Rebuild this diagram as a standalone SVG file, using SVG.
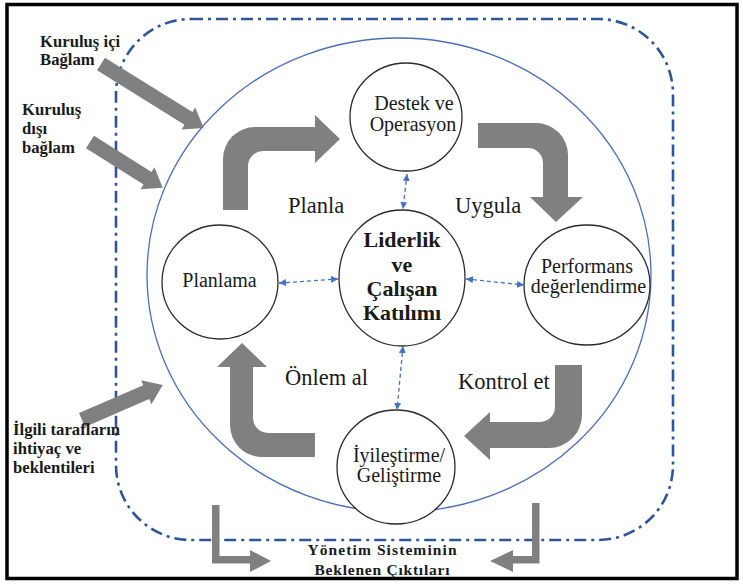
<svg xmlns="http://www.w3.org/2000/svg" width="743" height="585" viewBox="0 0 743 585">
<style>
.frame{fill:none;stroke:#000;stroke-width:3.5}
.boundary{fill:none;stroke:#2E5597;stroke-width:2.6;stroke-dasharray:12 5 3 5}
.bigc{fill:none;stroke:#4A6FB5;stroke-width:1.3}
.node{fill:#fff;stroke:#2b2b2b;stroke-width:1.3}
.garrow{fill:#808080;stroke:none}
.dash{fill:none;stroke:#4472C4;stroke-width:1.3;stroke-dasharray:4 3;marker-start:url(#ah);marker-end:url(#ah)}
.t{font-family:"Liberation Serif","Times New Roman",serif;fill:#1a1a1a}
.nt{font-size:20px;text-anchor:middle}
.bl{font-size:22.5px}
.lb{font-size:22px;font-weight:bold;text-anchor:middle}
.side{font-size:16.7px;font-weight:bold}
.out{font-size:15.5px;font-weight:bold;text-anchor:middle}
</style>
<defs>
<marker id="ah" viewBox="0 0 10 10" refX="10" refY="5" markerWidth="7" markerHeight="7" markerUnits="userSpaceOnUse" orient="auto-start-reverse">
<path d="M0,0 L10,5 L0,10 Z" fill="#4472C4"/>
</marker>
</defs>
<rect class="frame" x="7" y="4.5" width="730" height="574"/>
<rect class="boundary" x="116" y="19" width="557" height="521" rx="75" ry="75"/>
<ellipse class="bigc" cx="399" cy="275" rx="252" ry="237"/>

<g id="connectors">
<path class="garrow" d="M223 210 L223 159 A32 32 0 0 1 255 127 L315 127 L315 115 L340 139 L315 163 L315 151 L263 151 A15 15 0 0 0 248 166 L248 210 Z"/>
<path class="garrow" d="M478 123 L536 123 A32 32 0 0 1 568 155 L568 197 L583 197 L556 222 L530 197 L543 197 L543 163 A15 15 0 0 0 528 148 L478 148 Z"/>
<path class="garrow" d="M555 365 L582 365 L582 415 A33 33 0 0 1 549 448 L490 448 L490 460 L464 436 L490 412 L490 422 L540 422 A15 15 0 0 0 555 407 Z"/>
<path class="garrow" d="M315 433 L268 433 A15 15 0 0 1 253 418 L253 367 L267 367 L242 343 L217 367 L230 367 L230 425 A32 32 0 0 0 262 457 L315 457 Z"/>
<polygon class="garrow" transform="translate(101,64) rotate(31.9)" points="0,-7.5 103,-7.5 103,-13 121,0 103,13 103,7.5 0,7.5"/>
<polygon class="garrow" transform="translate(90,142) rotate(32.2)" points="0,-7.5 68,-7.5 68,-13 86,0 68,13 68,7.5 0,7.5"/>
<polygon class="garrow" transform="translate(82,420) rotate(-23.4)" points="0,-7.5 70,-7.5 70,-13 88,0 70,13 70,7.5 0,7.5"/>
<path class="garrow" d="M212 505 L219.5 505 L219.5 556 L250 556 L250 550 L271 561 L250 572 L250 563.5 L212 563.5 Z"/>
<path class="garrow" d="M539.5 503 L532 503 L532 556 L513 556 L513 550 L490 561 L513 572 L513 563.5 L539.5 563.5 Z"/>
</g>

<g id="node-destek">
<ellipse class="node" cx="406" cy="117" rx="56" ry="54"/>
<text class="t nt" x="414" y="110">Destek ve</text>
<text class="t nt" x="413" y="131">Operasyon</text>
</g>
<g id="node-liderlik">
<ellipse class="node" cx="402" cy="278" rx="63" ry="68"/>
<text class="t lb" x="402" y="247">Liderlik</text>
<text class="t lb" x="402" y="272">ve</text>
<text class="t lb" x="402" y="296">Çalışan</text>
<text class="t lb" x="402" y="320">Katılımı</text>
</g>
<g id="node-planlama">
<ellipse class="node" cx="220" cy="282" rx="58" ry="57"/>
<text class="t nt" x="219.5" y="287">Planlama</text>
</g>
<g id="node-performans">
<ellipse class="node" cx="587" cy="285" rx="63" ry="60"/>
<text class="t nt" x="587" y="273">Performans</text>
<text class="t nt" x="588.5" y="293">değerlendirme</text>
</g>
<g id="node-iyilestirme">
<ellipse class="node" cx="396" cy="467" rx="59" ry="57"/>
<text class="t nt" x="399" y="462">İyileştirme/</text>
<text class="t nt" x="399" y="482">Geliştirme</text>
</g>

<g id="dashed-links">
<line class="dash" x1="407" y1="174" x2="403" y2="209"/>
<line class="dash" x1="279" y1="283" x2="338" y2="279"/>
<line class="dash" x1="466" y1="279" x2="524" y2="285"/>
<line class="dash" x1="403" y1="346" x2="397" y2="410"/>
</g>

<g id="labels">
<text class="t bl" x="288" y="213">Planla</text>
<text class="t bl" x="455" y="213">Uygula</text>
<text class="t bl" x="285" y="385">Önlem al</text>
<text class="t bl" x="458" y="389">Kontrol et</text>
<text class="t side" x="40" y="47">Kuruluş içi</text>
<text class="t side" x="40" y="65">Bağlam</text>
<text class="t side" x="22" y="115">Kuruluş</text>
<text class="t side" x="22" y="134">dışı</text>
<text class="t side" x="22" y="153">bağlam</text>
<text class="t side" x="13" y="435">İlgili tarafların</text>
<text class="t side" x="13" y="454">ihtiyaç ve</text>
<text class="t side" x="13" y="473">beklentileri</text>
<text class="t out" x="382" y="555" textLength="149" lengthAdjust="spacing">Yönetim Sisteminin</text>
<text class="t out" x="382" y="575" textLength="135" lengthAdjust="spacing">Beklenen Çıktıları</text>
</g>
</svg>
